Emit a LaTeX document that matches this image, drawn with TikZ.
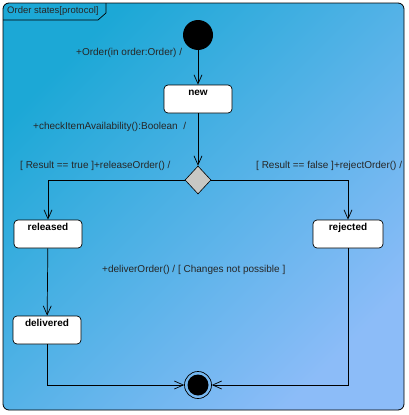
\documentclass[tikz,border=0pt]{standalone}
\usepackage{fontspec}
\setmainfont{Liberation Sans}
\usetikzlibrary{arrows.meta,shapes.geometric}
\definecolor{bgA}{RGB}{28,168,214}
\definecolor{bgB}{RGB}{140,188,248}
\definecolor{dgrey}{RGB}{200,200,196}
\begin{document}
\begin{tikzpicture}[x=1pt,y=-1pt,
  lbl/.style={font=\fontsize{10}{12}\selectfont, inner sep=0pt, text=black!85},
  statebox/.style={draw, fill=white, rounded corners=4pt, minimum width=68pt,
    minimum height=28pt, inner sep=2.5pt, text height=7.5pt, text depth=15.5pt,
    line width=0.7pt, font=\fontsize{10}{12}\selectfont\bfseries},
  flow/.style={line width=0.7pt, -{Straight Barb[length=9pt,width=8pt,line width=0.7pt]}},
  plain/.style={line width=0.7pt}]
\useasboundingbox (0,0) rectangle (408,415);
% frame
\path[shading=axis, top color=bgA, bottom color=bgB, shading angle=45, rounded corners=6pt]
  (3,3) rectangle (404,410);
\draw[line width=0.8pt, rounded corners=6pt] (3,3) rectangle (404,410);
\draw[line width=0.7pt] (3,20) -- (98,20) -- (106,13) -- (106,3);
\node[lbl, anchor=west, font=\fontsize{9.5}{11}\selectfont] (title) at (7,11) {Order states[protocol]};
% states
\node[circle, fill=black, minimum size=30pt, inner sep=0pt] (init) at (198,35) {};
\node[statebox] (new) at (198,99) {new};
\node[diamond, draw, fill=dgrey, minimum width=26pt, minimum height=28pt, inner sep=0pt, line width=0.6pt] (dec) at (198,180) {};
\node[statebox] (rel) at (48,234) {released};
\node[statebox, minimum width=70pt] (rej) at (348,234) {rejected};
\node[statebox] (del) at (47,330) {delivered};
\node[circle, draw, line width=0.7pt, minimum size=27pt, inner sep=0pt] (fin) at (198,385) {};
\node[circle, fill=black, minimum size=21pt, inner sep=0pt] (finin) at (fin) {};
% labels
\node[lbl, anchor=west] (l1) at (76,53) {+Order(in order:Order) /};
\node[lbl, anchor=west] (l2) at (33,127) {+checkItemAvailability():Boolean\ \ /};
\node[lbl, anchor=west] (l3) at (20,166) {[ Result == true ]+releaseOrder() /};
\node[lbl, anchor=west] (l4) at (256,166) {[ Result == false ]+rejectOrder() /};
\node[lbl, anchor=west] (l5) at (102,270) {+deliverOrder() / [ Changes not possible ]};
% connectors
\draw[flow] (init) -- (new);
\draw[flow] (new) -- (dec);
\draw[flow] (dec.west) -| (rel.north);
\draw[flow] (dec.east) -| (rej.north);
\draw[flow] (rel) -- (del);
\draw[flow] (del.south) |- (fin.west);
\draw[flow] (rej.south) |- (fin.east);
\end{tikzpicture}
\end{document}
